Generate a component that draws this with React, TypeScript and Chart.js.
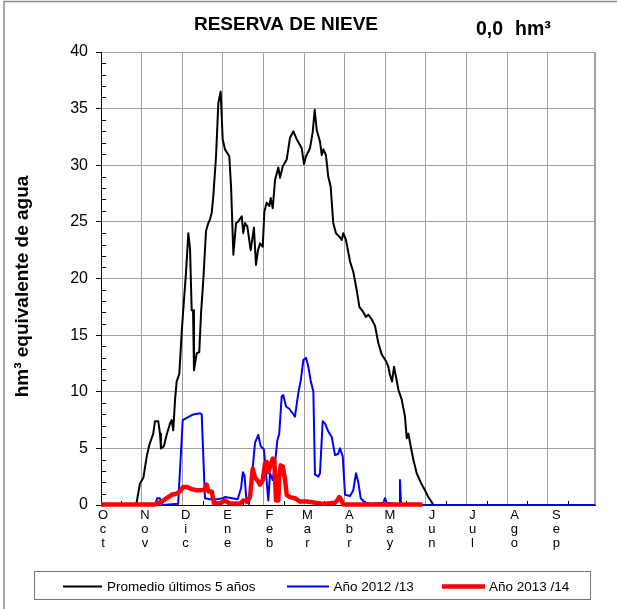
import React, { useEffect, useRef } from 'react';
import { Chart, registerables } from 'chart.js';

Chart.register(...registerables);

const FONT = '"Liberation Sans", Arial, Helvetica, sans-serif';

const chartTitle = 'RESERVA DE NIEVE';
const currentValue = '0,0';
const currentUnit = 'hm³';
const yAxisTitle = 'hm³ equivalente de agua';

const monthLabels = ['Oct', 'Nov', 'Dic', 'Ene', 'Feb', 'Mar', 'Abr', 'May', 'Jun', 'Jul', 'Ago', 'Sep'];
const monthStartDays = [0, 31, 61, 92, 123, 151, 182, 212, 243, 273, 304, 335];
const yearDays = 365;
const yMax = 40;
const yStep = 5;

const seriesLabels = ['Promedio últimos 5 años', 'Año 2012 /13', 'Año 2013 /14'];

// Promedio últimos 5 años (day of hydrological year, hm³)
const avgDays = [0, 26, 28.8, 31.3, 33.8, 35.7, 38.6, 39.9, 42.3, 43.6, 44.3, 46.5, 48.5, 51.0, 52.2, 53.4, 54.7, 55.9, 57.9, 59.6, 61.3, 62.8, 64.5, 65.8, 67.0, 68.0, 68.7, 70.7, 72.6, 73.9, 75.6, 77.6, 79.3, 80.5, 81.8, 83.0, 85.0, 86.7, 88.4, 89.9, 91.6, 94.8, 96.1, 97.8, 99.8, 101.2, 104.0, 105.1, 106.4, 108.1, 110.6, 113.0, 114.5, 116.0, 117.5, 119.5, 120.7, 122.4, 124.4, 125.4, 126.9, 128.6, 131.0, 132.3, 134.3, 137.2, 139.6, 142.1, 144.6, 148.3, 150.0, 151.5, 154.4, 156.4, 157.9, 159.4, 161.8, 163.1, 164.3, 166.2, 167.9, 169.7, 171.6, 173.6, 176.1, 177.9, 179.0, 181.0, 184.0, 186.4, 188.9, 190.9, 193.4, 195.8, 197.5, 200.0, 202.5, 204.9, 207.4, 210.6, 212.3, 213.5, 215.0, 216.5, 218.0, 219.7, 222.2, 224.6, 225.9, 227.1, 228.8, 230.8, 233.3, 237.0, 239.4, 241.8, 243.6, 245.1, 246, 365];
const avgValues = [0, 0, 1.9, 2.4, 4.3, 5.3, 6.3, 7.4, 7.4, 6.3, 5.0, 5.2, 6.2, 7.2, 7.5, 6.6, 9.3, 10.9, 11.6, 15.2, 18.1, 20.5, 24.0, 22.6, 17.2, 17.2, 11.9, 13.4, 13.5, 16.9, 19.9, 24.2, 24.9, 25.2, 25.8, 27.3, 30.8, 35.5, 36.5, 32.3, 31.4, 30.8, 28.1, 22.1, 24.9, 25.0, 25.5, 24.0, 24.9, 24.6, 22.5, 24.5, 21.2, 22.5, 23.1, 22.8, 25.9, 26.7, 26.4, 27.1, 26.2, 28.7, 29.8, 28.9, 29.9, 30.5, 32.4, 33.0, 32.3, 31.5, 30.1, 30.8, 31.5, 32.9, 34.9, 33.1, 32.1, 30.9, 31.4, 30.9, 29.0, 28.1, 24.9, 24.0, 23.7, 23.4, 24.0, 23.4, 21.5, 20.6, 19.0, 17.5, 17.1, 16.6, 16.8, 16.4, 15.8, 14.3, 13.3, 12.7, 12.2, 11.5, 10.9, 12.2, 11.3, 10.2, 9.3, 7.8, 5.9, 6.3, 5.2, 4.0, 2.8, 1.8, 1.3, 0.7, 0.4, 0.1, 0, 0];

// Año 2012 /13
const y1213Days = [0, 40, 41.5, 43.5, 45, 57, 60.4, 63.3, 68.2, 73.2, 74.4, 76.8, 80.5, 85.5, 90.1, 91.6, 101.0, 103.5, 104.8, 106.0, 107.5, 109.3, 111.3, 113.8, 116.2, 118.0, 120.4, 121.9, 123.6, 124.9, 126.9, 128.6, 130.3, 131.7, 133.5, 134.7, 136.7, 139.1, 141.6, 143.3, 145.8, 147.6, 149.5, 151.5, 153.2, 154.9, 156.9, 158.1, 160.6, 161.8, 163.8, 165.5, 167.9, 170.5, 172.9, 175.1, 176.6, 178.6, 180.3, 184.0, 186.4, 188.4, 190.1, 191.9, 195.1, 201.0, 208.6, 209.8, 211.1, 219.7, 220.4, 220.9, 221.7, 230, 365];
const y1213Values = [0, 0, 0.6, 0.6, 0, 0.1, 7.5, 7.7, 8.0, 8.1, 8.0, 0.6, 0.5, 0.5, 0.6, 0.7, 0.5, 1.5, 2.9, 2.6, 0.4, 0.1, 2.2, 5.5, 6.2, 5.2, 4.9, 2.8, 0.4, 2.8, 2.2, 3.7, 5.7, 6.3, 9.6, 9.7, 8.7, 8.5, 8.1, 7.8, 9.9, 11.0, 12.8, 13.0, 12.2, 11.0, 10.0, 2.7, 2.5, 2.8, 7.4, 7.2, 6.5, 6.0, 4.4, 4.5, 5.0, 4.3, 0.9, 0.8, 1.3, 2.8, 2.0, 0.6, 0.2, 0.1, 0.2, 0.6, 0.2, 0.05, 0.05, 2.2, 0.05, 0, 0];

// Año 2013 /14
const y1314Days = [0, 40, 44.9, 48.5, 52.2, 55.9, 58.4, 60.8, 63.3, 67.0, 70.7, 74.4, 76.8, 78.0, 79.3, 81.8, 83.5, 88, 91.6, 95, 102.7, 105.1, 107.6, 110.1, 112.1, 113.8, 115.5, 117.5, 119.5, 121.2, 122.4, 123.6, 124.9, 126.9, 128.1, 129.3, 131.0, 131.7, 132.8, 134.3, 136.0, 137.2, 139.6, 143.3, 147.0, 152.0, 164.3, 172.9, 174.6, 176.1, 177.3, 179.0, 237.5];
const y1314Values = [0.05, 0.05, 0.3, 0.6, 0.9, 1.0, 1.2, 1.6, 1.6, 1.4, 1.3, 1.3, 1.4, 1.8, 1.2, 1.2, 0.15, 0.15, 0.4, 0.15, 0.1, 0.4, 0.3, 0.7, 3.2, 2.4, 2.2, 1.8, 2.2, 3.7, 3.8, 2.9, 3.4, 4.1, 3.9, 0.4, 0.4, 2.5, 3.5, 3.4, 2.2, 0.9, 0.7, 0.6, 0.3, 0.3, 0.1, 0.2, 0.4, 0.7, 0.5, 0.05, 0.05];

const toPoints = (days: number[], values: number[]) => days.map((d, i) => ({ x: d, y: values[i] }));

const seriesColors = ['#000000', '#0000ff', '#ff0000'];
const seriesWidths = [2, 2, 4.5];

const decorPlugin = {
  id: 'decor',
  beforeDatasetsDraw(chart: any) {
    const { ctx, chartArea: a, scales } = chart;
    const ys = scales.y;
    const xs = scales.x;
    ctx.save();
    ctx.strokeStyle = '#000';
    ctx.lineWidth = 1;
    ctx.beginPath();
    for (let v = 1; v < yMax; v++) {
      if (v % yStep === 0) continue;
      const py = Math.round(ys.getPixelForValue(v)) + 0.5;
      ctx.moveTo(a.left, py);
      ctx.lineTo(a.left + 5, py);
    }
    for (let d = 15; d < yearDays; d += 30) {
      const px = Math.round(xs.getPixelForValue(d)) + 0.5;
      ctx.moveTo(px, a.bottom);
      ctx.lineTo(px, a.bottom - 4);
    }
    ctx.stroke();
    ctx.restore();
  },
  afterDraw(chart: any) {
    const { ctx } = chart;
    ctx.save();
    // outer frame
    ctx.strokeStyle = '#8c8c8c';
    ctx.lineWidth = 1.5;
    ctx.beginPath();
    ctx.moveTo(4, 609);
    ctx.lineTo(4, 1.5);
    ctx.lineTo(617, 1.5);
    ctx.stroke();

    // titles
    ctx.fillStyle = '#000';
    ctx.font = `bold 19px ${FONT}`;
    ctx.textBaseline = 'alphabetic';
    ctx.textAlign = 'center';
    ctx.fillText(chartTitle, 286, 30);
    ctx.textAlign = 'left';
    ctx.font = `bold 19.5px ${FONT}`;
    ctx.fillText(currentValue, 476, 35);
    ctx.fillText(currentUnit, 515, 35);

    // y axis title
    ctx.save();
    ctx.translate(27.5, 286.5);
    ctx.rotate(-Math.PI / 2);
    ctx.textAlign = 'center';
    ctx.font = `bold 19px ${FONT}`;
    ctx.fillText(yAxisTitle, 0, 0);
    ctx.restore();

    // legend
    ctx.strokeStyle = '#7a7a7a';
    ctx.lineWidth = 1;
    ctx.strokeRect(34.5, 571.5, 556, 28);
    const samples = [
      [63, 102, 107],
      [287, 329, 333.5],
      [442, 485, 489],
    ];
    ctx.font = `13.5px ${FONT}`;
    ctx.textAlign = 'left';
    ctx.textBaseline = 'alphabetic';
    seriesLabels.forEach((label, i) => {
      const [x0, x1, tx] = samples[i];
      ctx.strokeStyle = seriesColors[i];
      ctx.lineWidth = seriesWidths[i];
      ctx.beginPath();
      ctx.moveTo(x0, 586.5);
      ctx.lineTo(x1, 586.5);
      ctx.stroke();
      ctx.fillStyle = '#000';
      ctx.fillText(label, tx, 591);
    });
    ctx.restore();
  },
};

export default function App() {
  const canvasRef = useRef<HTMLCanvasElement | null>(null);

  useEffect(() => {
    const canvas = canvasRef.current;
    if (!canvas) return;
    const seriesPoints = [
      toPoints(avgDays, avgValues),
      toPoints(y1213Days, y1213Values),
      toPoints(y1314Days, y1314Values),
    ];
    const chart = new Chart(canvas, {
      type: 'line',
      data: {
        datasets: seriesLabels.map((label, i) => ({
          label,
          data: seriesPoints[i],
          borderColor: seriesColors[i],
          backgroundColor: seriesColors[i],
          borderWidth: seriesWidths[i],
          pointRadius: 0,
          tension: 0,
          fill: false,
          clip: 6,
          order: 3 - i,
          borderJoinStyle: 'round' as const,
        })),
      },
      options: {
        animation: false,
        responsive: false,
        maintainAspectRatio: false,
        layout: { padding: { top: 52, right: 22, left: 0, bottom: 0 } },
        plugins: {
          legend: { display: false },
          title: { display: false },
          tooltip: { enabled: false },
        },
        scales: {
          x: {
            type: 'linear',
            position: 'bottom',
            weight: 0,
            min: 0,
            max: yearDays,
            ticks: { display: false, stepSize: 30 },
            grid: {
              color: '#a0a0a0',
              lineWidth: (c: any) => (c.tick && c.tick.value === yearDays ? 2 : 1),
              drawTicks: false,
            },
            border: { display: true, color: '#000', width: 1 },
            afterFit: (s: any) => {
              s.height = 0;
            },
          },
          xl: {
            type: 'linear',
            position: 'bottom',
            weight: 1,
            min: 0,
            max: yearDays,
            grid: { display: false, drawTicks: false },
            border: { display: false },
            afterBuildTicks: (axis: any) => {
              axis.ticks = monthStartDays.map((d) => ({ value: d + 1.5 }));
            },
            ticks: {
              autoSkip: false,
              maxRotation: 0,
              minRotation: 0,
              padding: 3,
              color: '#000',
              font: { family: FONT, size: 13, lineHeight: 1.08 },
              callback: (_v: any, index: number) => monthLabels[index].split(''),
            },
            afterFit: (s: any) => {
              s.height = 104;
            },
          },
          y: {
            type: 'linear',
            min: 0,
            max: yMax,
            ticks: {
              stepSize: yStep,
              color: '#000',
              padding: 8,
              font: { family: FONT, size: 16 },
            },
            grid: { color: '#a0a0a0', tickColor: '#000', tickLength: 5 },
            border: { display: true, color: '#000', width: 1 },
            afterFit: (s: any) => {
              s.width = 101;
            },
          },
        },
      },
      plugins: [decorPlugin],
    });
    return () => chart.destroy();
  }, []);

  return (
    <div style={{ position: 'absolute', left: 0, top: 0, width: 617, height: 609, background: '#fff' }}>
      <canvas ref={canvasRef} width={617} height={609} style={{ display: 'block', width: 617, height: 609 }} />
    </div>
  );
}
